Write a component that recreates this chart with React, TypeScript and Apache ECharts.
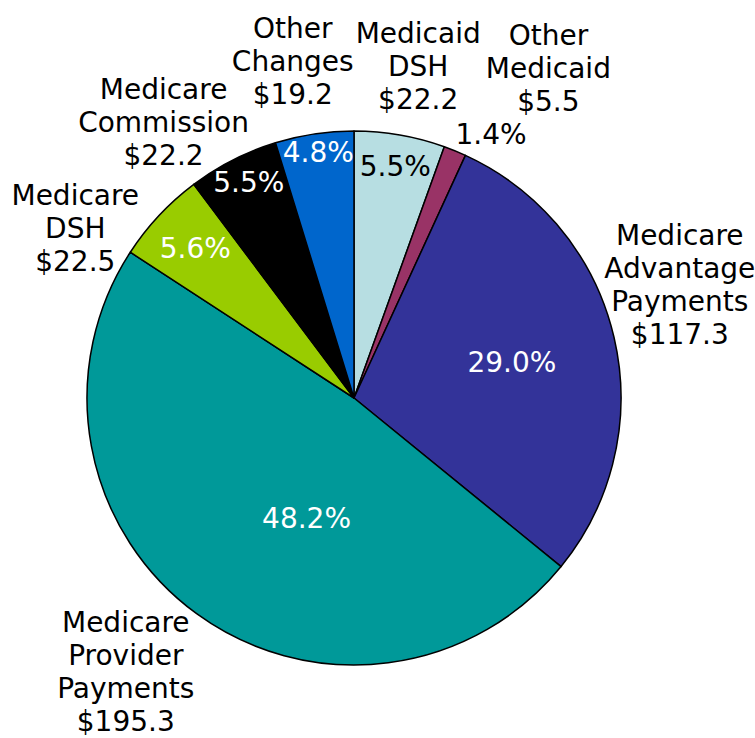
import React, { useEffect, useRef } from "react";
import * as echarts from "echarts";

const categories = [
  "Medicaid\nDSH",
  "Other\nMedicaid",
  "Medicare\nAdvantage\nPayments",
  "Medicare\nProvider\nPayments",
  "Medicare\nDSH",
  "Medicare\nCommission",
  "Other\nChanges",
];
const amounts = [22.2, 5.5, 117.3, 195.3, 22.5, 22.2, 19.2];
const percentLabels = ["5.5%", "1.4%", "29.0%", "48.2%", "5.6%", "5.5%", "4.8%"];

const colors = ["#B7DEE2", "#993366", "#333399", "#009999", "#99CC00", "#000000", "#0066CC"];
const percentColors = ["#000", "#000", "#fff", "#fff", "#fff", "#fff", "#fff"];
// which percent labels sit on the main series (large slices) vs the outer ring layer
const bigSlice = [false, false, true, true, false, false, false];
const bigOffsets: [number, number][] = [[0, 0], [0, 0], [25, -5], [33, 10], [0, 0], [0, 0], [0, 0]];
const ringOffsets: [number, number][] = [[0, 6], [46, -41], [0, 0], [0, 0], [17, 15], [4, -1], [0, -8]];
const nameOffsets: [number, number][] = [[5, 8], [64, -10], [-10, -35], [-25, -5], [-27, 66], [-34, 32], [-10, 4]];

const CX = 354;
const CY = 398;
const R = 267;
const FONT = "DejaVu Sans";
const FS = 28;

export default function App() {
  const ref = useRef<HTMLDivElement>(null);
  useEffect(() => {
    if (!ref.current) return;
    const chart = echarts.init(ref.current, undefined, { renderer: "svg" });
    const base = {
      type: "pie",
      center: [CX, CY],
      startAngle: 90,
      clockwise: true,
      avoidLabelOverlap: false,
      silent: true,
      emphasis: { disabled: true },
      labelLine: { show: false },
    };
    const mainData = categories.map((c, i) => ({
      name: c,
      value: amounts[i],
      itemStyle: { color: colors[i] },
      label: {
        show: bigSlice[i],
        position: "inside",
        formatter: percentLabels[i],
        color: percentColors[i],
        fontFamily: FONT,
        fontSize: FS,
      },
    }));
    const ringData = categories.map((c, i) => ({
      name: c,
      value: amounts[i],
      label: {
        show: !bigSlice[i],
        position: "inside",
        formatter: percentLabels[i],
        color: percentColors[i],
        fontFamily: FONT,
        fontSize: FS,
      },
    }));
    const nameData = categories.map((c, i) => ({
      name: c,
      value: amounts[i],
    }));
    const transparent = { color: "rgba(0,0,0,0)", borderWidth: 0 };
    chart.setOption({
      animation: false,
      backgroundColor: "#fff",
      series: [
        {
          ...base,
          radius: [0, R],
          itemStyle: { borderColor: "#000", borderWidth: 1.5 },
          data: mainData,
          labelLayout: (p: any) => ({ dx: bigOffsets[p.dataIndex][0], dy: bigOffsets[p.dataIndex][1] }),
        },
        {
          ...base,
          radius: [R * 0.78, R],
          itemStyle: transparent,
          data: ringData,
          labelLayout: (p: any) => ({ dx: ringOffsets[p.dataIndex][0], dy: ringOffsets[p.dataIndex][1] }),
        },
        {
          ...base,
          radius: [R, R * 1.56],
          itemStyle: transparent,
          data: nameData,
          label: {
            show: true,
            position: "inside",
            formatter: (p: any) => `${p.name}\n$${p.value.toFixed(1)}`,
            color: "#000",
            fontFamily: FONT,
            fontSize: FS,
            lineHeight: 33,
            align: "center",
          },
          labelLayout: (p: any) => ({ dx: nameOffsets[p.dataIndex][0], dy: nameOffsets[p.dataIndex][1] }),
        },
      ],
    });
    return () => chart.dispose();
  }, []);
  return (
    <div
      ref={ref}
      style={{ position: "absolute", left: 0, top: 0, width: 755, height: 738 }}
    />
  );
}
